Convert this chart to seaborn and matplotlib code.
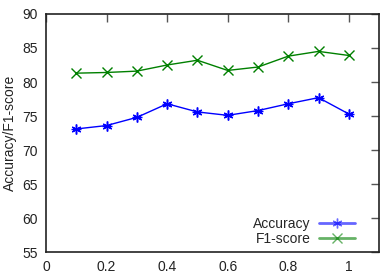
import matplotlib
matplotlib.use("Agg")
import matplotlib.pyplot as plt
from matplotlib.lines import Line2D
import seaborn as sns

x = [0.1, 0.2, 0.3, 0.4, 0.5, 0.6, 0.7, 0.8, 0.9, 1.0]
accuracy = [73.1, 73.6, 74.8, 76.8, 75.6, 75.1, 75.8, 76.8, 77.7, 75.3]
f1 = [81.3, 81.4, 81.6, 82.5, 83.2, 81.7, 82.2, 83.8, 84.5, 83.9]

blue = "#0000ff"
green = "#008000"

sns.set_style("white")
plt.rcParams['font.family'] = ['Liberation Sans', 'DejaVu Sans']

fig = plt.figure(figsize=(3.9, 2.74), dpi=100)
ax = fig.add_axes([0.118, 0.080, 0.854, 0.869])

# gnuplot-like '*' marker = asterisk + plus
sns.lineplot(x=x, y=accuracy, color=blue, marker=(6, 2, 0), markersize=7,
             markeredgecolor=blue, markeredgewidth=1.0, linewidth=1.0, ax=ax)
ax.plot(x, accuracy, linestyle="none", marker="+", color=blue, markersize=7)
sns.lineplot(x=x, y=f1, color=green, marker="x", markersize=7,
             markeredgecolor=green, markeredgewidth=1.0, linewidth=1.0, ax=ax)

ax.set_xlim(0, 1.1)
ax.set_ylim(55, 90)
ax.set_xticks([0, 0.2, 0.4, 0.6, 0.8, 1])
ax.set_xticklabels(["0", "0.2", "0.4", "0.6", "0.8", "1"])
ax.set_yticks(range(55, 91, 5))
ax.set_ylabel("Accuracy/F1-score", fontsize=10, color="#222222")
ax.tick_params(direction="in", length=6, width=1, color="#555555",
               labelsize=10, labelcolor="#222222", top=True, right=True,
               labeltop=False, labelright=False, pad=6)
for s in ax.spines.values():
    s.set_color("#222222")
    s.set_linewidth(1.2)

handles = [Line2D([], [], color=blue, marker=(6, 2, 0), markersize=7, lw=2, alpha=0.6,
                  markeredgecolor=blue),
           Line2D([], [], color=green, marker="x", markersize=7, lw=2, alpha=0.6)]
ax.legend(handles, ["Accuracy", "F1-score"], loc="lower right", frameon=False,
          markerfirst=False, fontsize=10, handlelength=2.6, labelspacing=0.05,
          bbox_to_anchor=(0.965, -0.025), handletextpad=0.6)

fig.savefig("out.png", dpi=100)
